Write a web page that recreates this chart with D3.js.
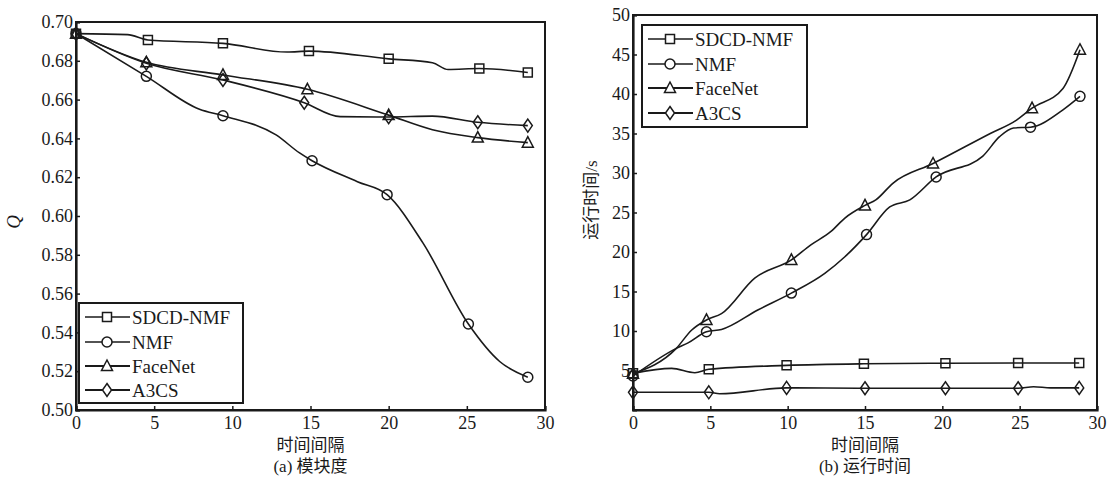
<!DOCTYPE html>
<html>
<head>
<meta charset="utf-8">
<script src="https://cdn.jsdelivr.net/npm/d3@7"></script>
<style>
  body { margin: 0; background: #fff; }
  svg { display: block; }
  text { font-family: 'Liberation Serif', 'Times New Roman', 'Noto Sans CJK SC', serif; fill: #1a1a1a; }
</style>
</head>
<body>
<svg id="chart" width="1111" height="482"></svg>
<script>
// ---- data ----
const seriesNames = ['SDCD-NMF', 'NMF', 'FaceNet', 'A3CS'];
const xTicks = [0, 5, 10, 15, 20, 25, 30];
const qTicks = [0.50, 0.52, 0.54, 0.56, 0.58, 0.60, 0.62, 0.64, 0.66, 0.68, 0.70];
const timeTicks = [5, 10, 15, 20, 25, 30, 35, 40, 45, 50];

// (a) modularity Q: line vertices [x, Q]
const qSdcdLine = [[0,0.694],[3.3,0.6935],[4.6,0.6907],[9.4,0.689],[13.5,0.6845],[14.9,0.685],[20,0.681],[22.8,0.679],[23.8,0.6755],[25.8,0.676],[28.9,0.674]];
const qNmfLine = [[0,0.694],[4.5,0.672],[7.9,0.655],[9.4,0.6517],[12.8,0.6418],[14.3,0.6325],[15.1,0.6285],[18,0.6177],[19.9,0.611],[22.2,0.586],[25.1,0.5443],[27.1,0.525],[28.9,0.5169]];
const qFaceLine = [[0,0.694],[4.5,0.6792],[9.4,0.6727],[14.8,0.6653],[20,0.652],[22.8,0.6445],[25.7,0.6404],[28.9,0.6378]];
const qA3csLine = [[0,0.694],[4.5,0.6787],[9.4,0.6701],[14.6,0.6584],[16.9,0.6512],[20,0.651],[22.8,0.6515],[25.7,0.6483],[28.9,0.6466]];
// marker x positions
const qSdcdMarks = [0, 4.6, 9.4, 14.9, 20, 25.8, 28.9];
const qNmfMarks = [0, 4.5, 9.4, 15.1, 19.9, 25.1, 28.9];
const qFaceMarks = [0, 4.5, 9.4, 14.8, 20, 25.7, 28.9];
const qA3csMarks = [0, 4.5, 9.4, 14.6, 20, 25.7, 28.9];

// (b) running time (s)
const tSdcdLine = [[0,4.64],[2.5,5.27],[4.0,4.72],[4.9,5.15],[9.93,5.65],[14.93,5.85],[20.2,5.92],[24.9,5.95],[28.85,5.95]];
const tNmfLine = [[0,4.3],[2.8,7.8],[3.56,8.5],[4.75,9.9],[5.72,10.2],[8.1,12.7],[10.24,14.8],[12.4,17.3],[13.7,19.4],[15.1,22.2],[16.6,25.7],[17.9,26.6],[19.6,29.5],[22.6,32.1],[23.7,34.6],[24.6,35.7],[25.7,35.8],[27.8,38.0],[28.9,39.7]];
const tFaceLine = [[0,4.6],[2.8,7.8],[3.78,10.1],[4.75,11.4],[5.72,12.2],[7.87,16.7],[10.24,19.0],[11.5,20.9],[12.8,22.6],[13.7,24.3],[15.0,25.9],[15.7,26.6],[16.8,28.7],[19.4,31.2],[23.1,35.0],[24.8,36.7],[25.8,38.2],[27.8,40.7],[28.9,45.6]];
const tA3csLine = [[0,2.24],[4.9,2.24],[5.6,2.05],[9.93,2.8],[15,2.75],[20.2,2.75],[24.9,2.75],[25.9,2.95],[27,2.8],[28.85,2.8]];
const tSdcdMarks = [0, 4.9, 9.93, 14.93, 20.2, 24.9, 28.85];
const tNmfMarks = [0, 4.75, 10.24, 15.1, 19.6, 25.7, 28.9];
const tFaceMarks = [0, 4.75, 10.24, 15.0, 19.4, 25.8, 28.9];
const tA3csMarks = [0, 4.9, 9.93, 15, 20.2, 24.9, 28.85];

const svg = d3.select('#chart');
const ink = '#1a1a1a';
const markerKinds = ['square', 'circle', 'triangle', 'diamond'];

function markerPath(kind) {
    switch (kind) {
        case 'square': return 'M-4.5,-4.5H4.5V4.5H-4.5Z';
        case 'circle': return 'M5,0A5,5 0 1,1 -5,0A5,5 0 1,1 5,0Z';
        case 'triangle': return 'M0,-6L5.5,4.5H-5.5Z';
        case 'diamond': return 'M0,-6.5L4.5,0L0,6.5L-4.5,0Z';
    }
}

// value on the polyline at x (markers sit on the drawn line)
function valueAt(line, x) {
    for (let i = 1; i < line.length; i++) {
        if (x <= line[i][0]) {
            const [x0, y0] = line[i - 1], [x1, y1] = line[i];
            return x1 === x0 ? y1 : y0 + (y1 - y0) * (x - x0) / (x1 - x0);
        }
    }
    return line[line.length - 1][1];
}

function drawPanel(cfg) {
    const g = svg.append('g');
    const x = d3.scaleLinear().domain([0, 30]).range([cfg.left, cfg.right]);
    const y = d3.scaleLinear().domain(cfg.yDomain).range([cfg.bottom, cfg.top]);

    // frame
    g.append('rect')
        .attr('x', cfg.left).attr('y', cfg.top)
        .attr('width', cfg.right - cfg.left).attr('height', cfg.bottom - cfg.top)
        .attr('fill', 'none').attr('stroke', ink).attr('stroke-width', 2);

    const xAxis = g.append('g')
        .attr('transform', `translate(0,${cfg.bottom})`)
        .call(d3.axisBottom(x).tickValues(xTicks).tickSize(-4).tickPadding(4).tickFormat(d3.format('d')));
    const yAxis = g.append('g')
        .attr('transform', `translate(${cfg.left},0)`)
        .call(d3.axisLeft(y).tickValues(cfg.yTicks).tickSize(-4).tickPadding(3).tickFormat(cfg.yFormat));
    [xAxis, yAxis].forEach(a => {
        a.select('.domain').attr('stroke', ink).attr('stroke-width', 2.2);
        a.selectAll('.tick line').attr('stroke', ink).attr('stroke-width', 1.5);
        a.selectAll('.tick text').style('font-size', '18px').attr('fill', ink)
            .style('font-family', "'Liberation Serif', serif");
    });
    xAxis.selectAll('.tick text').attr('dy', '0.85em');

    const line = d3.line().x(d => x(d[0])).y(d => y(d[1])).curve(d3.curveMonotoneX);

    cfg.lines.forEach((pts, i) => {
        g.append('path').datum(pts)
            .attr('d', line)
            .attr('fill', 'none').attr('stroke', ink).attr('stroke-width', 1.6);
    });
    cfg.lines.forEach((pts, i) => {
        g.selectAll(null).data(cfg.marks[i]).enter().append('path')
            .attr('d', markerPath(markerKinds[i]))
            .attr('transform', d => `translate(${x(d)},${y(valueAt(pts, d))})`)
            .attr('fill', 'none').attr('stroke', ink).attr('stroke-width', 1.5);
    });

    // legend
    const lg = g.append('g');
    lg.append('rect')
        .attr('x', cfg.legend.x).attr('y', cfg.legend.y)
        .attr('width', cfg.legend.w).attr('height', cfg.legend.h)
        .attr('fill', '#fff').attr('stroke', ink).attr('stroke-width', 2);
    seriesNames.forEach((name, i) => {
        const cy = cfg.legend.rows[i];
        lg.append('line')
            .attr('x1', cfg.legend.x + 6).attr('x2', cfg.legend.x + 51)
            .attr('y1', cy).attr('y2', cy)
            .attr('stroke', ink).attr('stroke-width', i >= 2 ? 2 : 1.4);
        lg.append('path')
            .attr('d', markerPath(markerKinds[i]))
            .attr('transform', `translate(${cfg.legend.x + 28},${cy})`)
            .attr('fill', '#fff').attr('stroke', ink).attr('stroke-width', 1.5);
        lg.append('text')
            .attr('x', cfg.legend.x + 53).attr('y', cy)
            .attr('dy', '0.35em')
            .style('font-size', '19px')
            .text(name);
    });

    // axis titles and caption
    const cx = (cfg.left + cfg.right) / 2;
    g.append('text').attr('x', cx).attr('y', 445).attr('dy', '0.35em')
        .attr('text-anchor', 'middle').style('font-size', '17px').text('时间间隔');
    g.append('text').attr('x', cx).attr('y', 466).attr('dy', '0.35em')
        .attr('text-anchor', 'middle').style('font-size', '17px').text(cfg.caption);
    g.append('text')
        .attr('transform', `translate(${cfg.yLabelX},${cfg.yLabelY}) rotate(-90)`)
        .attr('text-anchor', 'middle').attr('dy', '0.35em')
        .style('font-size', cfg.yLabelSize)
        .style('font-style', cfg.yLabelItalic ? 'italic' : 'normal')
        .text(cfg.yLabel);
}

drawPanel({
    left: 76, right: 545, top: 22, bottom: 410,
    yDomain: [0.50, 0.70], yTicks: qTicks, yFormat: d3.format('.2f'),
    lines: [qSdcdLine, qNmfLine, qFaceLine, qA3csLine],
    marks: [qSdcdMarks, qNmfMarks, qFaceMarks, qA3csMarks],
    legend: { x: 79, y: 303, w: 164, h: 100, rows: [317, 342, 366, 390] },
    caption: '(a) 模块度',
    yLabel: 'Q', yLabelX: 13, yLabelY: 222, yLabelSize: '19px', yLabelItalic: true
});

drawPanel({
    left: 633, right: 1097, top: 15, bottom: 410,
    yDomain: [0, 50], yTicks: timeTicks, yFormat: d3.format('d'),
    lines: [tSdcdLine, tNmfLine, tFaceLine, tA3csLine],
    marks: [tSdcdMarks, tNmfMarks, tFaceMarks, tA3csMarks],
    legend: { x: 642, y: 25, w: 165, h: 102, rows: [39, 64, 88, 113] },
    caption: '(b) 运行时间',
    yLabel: '运行时间/s', yLabelX: 591, yLabelY: 200, yLabelSize: '17px', yLabelItalic: false
});
</script>
</body>
</html>
